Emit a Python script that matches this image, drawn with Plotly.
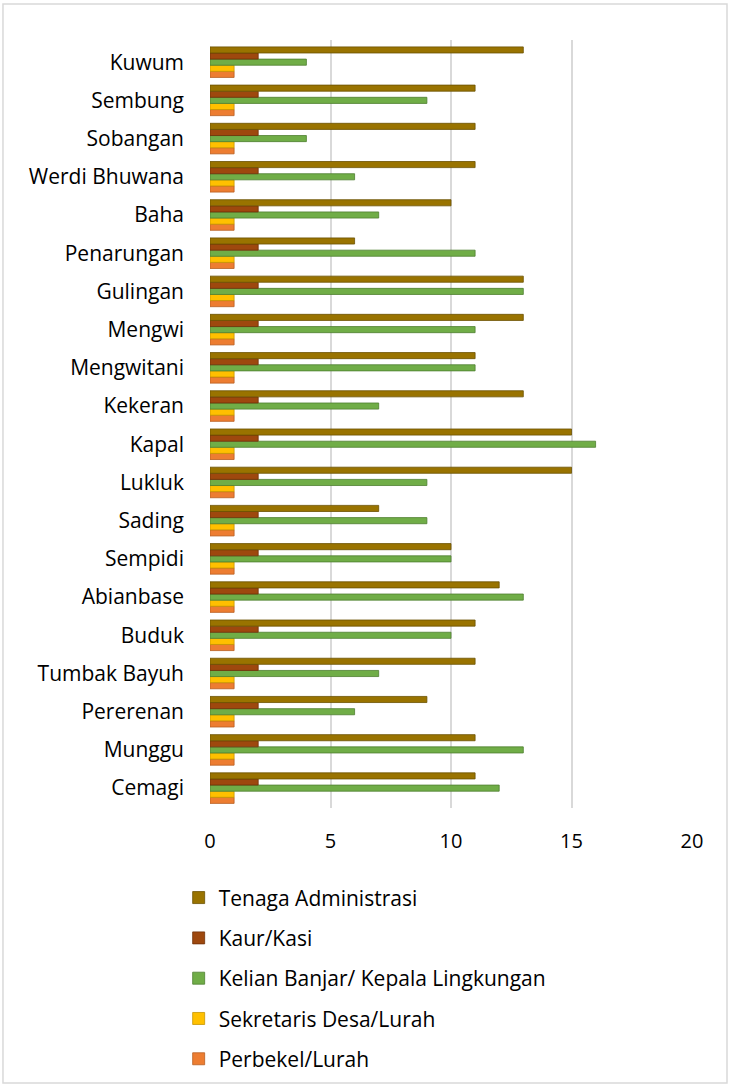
import plotly.graph_objects as go

villages = ["Cemagi", "Munggu", "Pererenan", "Tumbak Bayuh", "Buduk", "Abianbase",
            "Sempidi", "Sading", "Lukluk", "Kapal", "Kekeran", "Mengwitani", "Mengwi",
            "Gulingan", "Penarungan", "Baha", "Werdi Bhuwana", "Sobangan", "Sembung", "Kuwum"]

perbekel = [1] * 20
sekretaris = [1] * 20
kelian = [12, 13, 6, 7, 10, 13, 10, 9, 9, 16, 7, 11, 11, 13, 11, 7, 6, 4, 9, 4]
kaur = [2] * 20
tenaga = [11, 11, 9, 11, 11, 12, 10, 7, 15, 15, 13, 11, 13, 13, 6, 10, 11, 11, 11, 13]

series = [
    ("Perbekel/Lurah", perbekel, "#ED7D31", "#B85E22", 5),
    ("Sekretaris Desa/Lurah", sekretaris, "#FFC000", "#C79500", 4),
    ("Kelian Banjar/ Kepala Lingkungan", kelian, "#70AD47", "#4E7F30", 3),
    ("Kaur/Kasi", kaur, "#9E480E", "#6E3008", 2),
    ("Tenaga Administrasi", tenaga, "#997300", "#6B5000", 1),
]

fig = go.Figure()
for name, vals, col, edge, rank in series:
    fig.add_trace(go.Bar(
        y=villages, x=vals, name=name, orientation="h",
        marker=dict(color=col, line=dict(color=edge, width=0.8)),
        legendgroup=name, legendrank=rank,
    ))

font_family = "Open Sans, DejaVu Sans, sans-serif"
fig.update_layout(
    width=730, height=1086,
    margin=dict(l=210, r=38, t=40, b=278, autoexpand=False),
    paper_bgcolor="white", plot_bgcolor="white",
    barmode="group", bargap=0.2, bargroupgap=0,
    font=dict(family=font_family, size=21, color="#000000"),
    showlegend=True,
    legend=dict(
        orientation="v", x=-0.065, xanchor="left", y=-0.0904, yanchor="top",
        traceorder="grouped", tracegroupgap=10,
        font=dict(size=21, family=font_family, color="#000000"),
        itemwidth=30,
    ),
    xaxis=dict(
        range=[0, 20], tickvals=[0, 5, 10, 15, 20], showgrid=True,
        gridcolor="#D9D9D9", gridwidth=2, zeroline=False, showline=False,
        ticks="", ticklabelstandoff=19, tickfont=dict(size=20), automargin=False,
    ),
    yaxis=dict(
        showgrid=False, zeroline=False, showline=False, ticks="",
        ticklabelstandoff=25, tickfont=dict(size=21), automargin=False,
        range=[-0.52, 19.58],
    ),
    shapes=[dict(
        type="rect", xref="paper", yref="paper",
        x0=-0.4295, x1=1.0726, y0=-0.358, y1=1.0469,
        line=dict(color="#D9D9D9", width=1.5), fillcolor="rgba(0,0,0,0)",
    )],
)

fig.write_html("out.html", config={"displayModeBar": False},
               post_script="document.body.style.margin='0';")
